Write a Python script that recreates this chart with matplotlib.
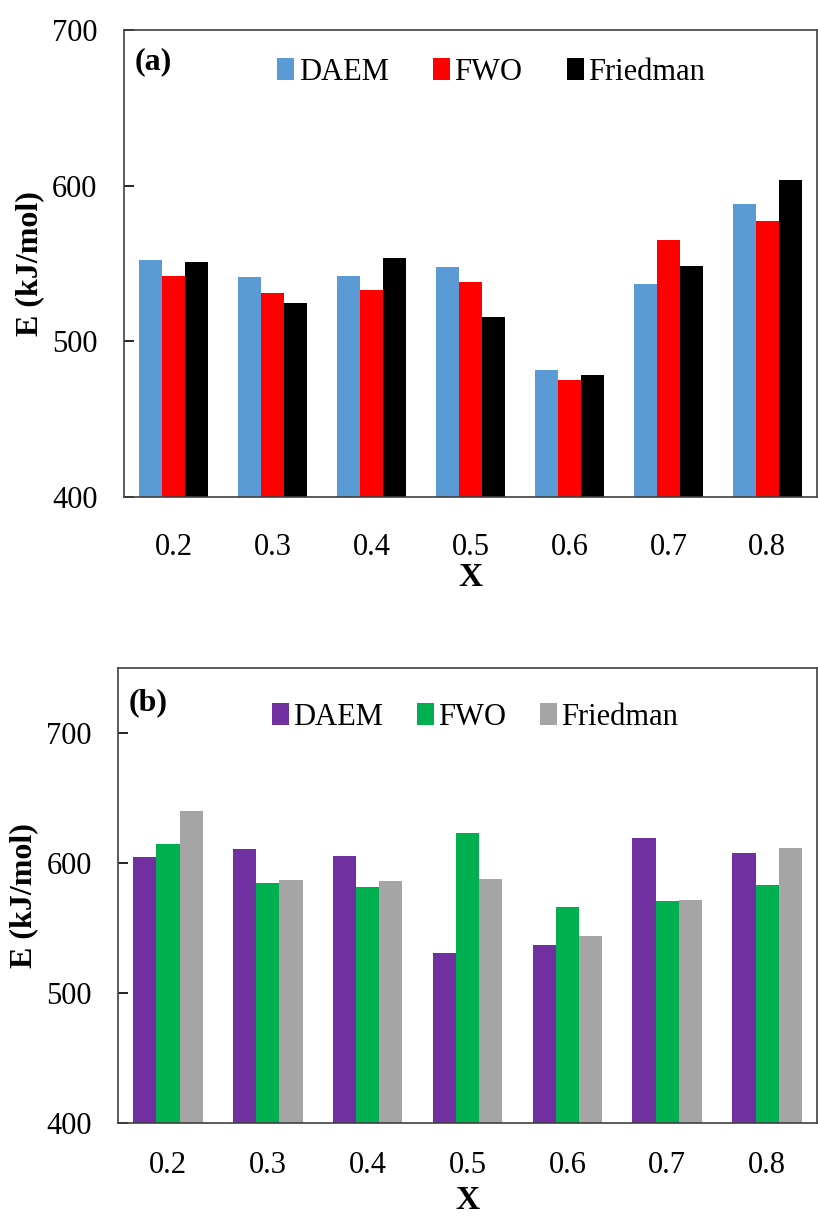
import numpy as np
import matplotlib
matplotlib.use("Agg")
import matplotlib.pyplot as plt

plt.rcParams['font.family'] = ['Liberation Serif', 'DejaVu Serif']

x_labels = ["0.2", "0.3", "0.4", "0.5", "0.6", "0.7", "0.8"]
series_names = ["DAEM", "FWO", "Friedman"]

# panel (a)
daem_a = [552.5, 541.2, 541.8, 547.6, 481.6, 536.9, 588.1]
fwo_a = [541.8, 531.3, 532.8, 538.0, 475.0, 565.0, 577.4]
fried_a = [551.0, 524.5, 553.4, 515.5, 478.4, 548.7, 603.7]

# panel (b)
daem_b = [605.0, 610.6, 605.7, 531.0, 536.8, 619.5, 607.7]
fwo_b = [614.6, 585.0, 581.2, 623.3, 566.4, 570.5, 583.3]
fried_b = [640.2, 587.0, 586.0, 588.0, 543.7, 571.3, 611.9]

colors_a = ["#5B9BD5", "#FF0000", "#000000"]
colors_b = ["#7030A0", "#00B050", "#A5A5A5"]

fig = plt.figure(figsize=(8.18, 12.17), dpi=100)
ax1 = fig.add_axes([0.1516, 0.5916, 0.847, 0.3837])
ax2 = fig.add_axes([0.1443, 0.0772, 0.8545, 0.3739])

def panel(ax, data, colors, ylim, yticks, tag, tag_y, leg_xy, colsp, xpad, xlpad):
	pos = np.arange(len(x_labels))
	w = 0.232
	for i, (vals, c, name) in enumerate(zip(data, colors, series_names)):
		ax.bar(pos + (i - 1) * w, np.array(vals) - ylim[0], w, bottom=ylim[0],
			color=c, label=name, edgecolor='none')
	ax.set_xlim(-0.5, len(x_labels) - 0.5)
	ax.set_ylim(*ylim)
	ax.set_yticks(yticks)
	ax.set_xticks(pos)
	ax.set_xticklabels(x_labels)
	ax.tick_params(axis='x', length=0, pad=xpad, labelsize=22)
	ax.tick_params(axis='y', direction='in', length=7, width=1.2, pad=19, labelsize=22)
	for s in ax.spines.values():
		s.set_color('#404040')
		s.set_linewidth(1.2)
	ax.set_xlabel("X", fontsize=24, fontweight='bold', labelpad=xlpad)
	ax.set_ylabel("E (kJ/mol)", fontsize=23, fontweight='bold', labelpad=6)
	ax.text(0.015, tag_y, tag, transform=ax.transAxes, fontsize=23,
		fontweight='bold', va='top', ha='left')
	ax.legend(loc='center', bbox_to_anchor=leg_xy, ncol=3, frameon=False,
		fontsize=22, handlelength=0.55, handleheight=0.75, handletextpad=0.15,
		columnspacing=colsp, borderaxespad=0)

panel(ax1, [daem_a, fwo_a, fried_a], colors_a, (400, 700), [400, 500, 600, 700],
	"(a)", 0.964, (0.53, 0.91), 1.45, 26, 0)
panel(ax2, [daem_b, fwo_b, fried_b], colors_b, (400, 750), [400, 500, 600, 700],
	"(b)", 0.956, (0.511, 0.892), 1.1, 20, 4)

fig.savefig("out.png", dpi=100)
